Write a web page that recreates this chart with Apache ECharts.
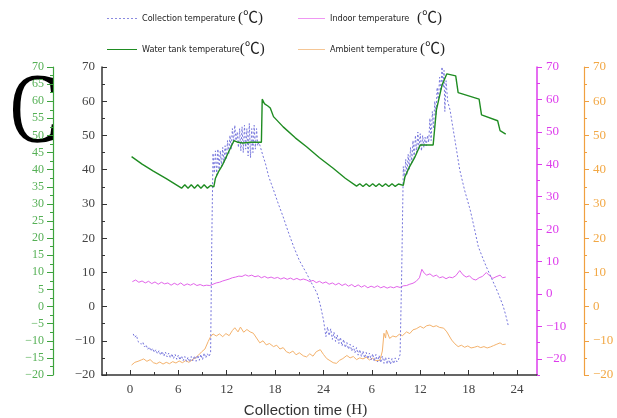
<!DOCTYPE html>
<html>
<head>
<meta charset="utf-8">
<script src="https://cdn.jsdelivr.net/npm/echarts@6/dist/echarts.min.js"></script>
<style>
  html, body { margin: 0; padding: 0; background: #fff; }
  #chart { width: 617px; height: 418px; }
</style>
</head>
<body>
<div id="chart"></div>
<script>
// time in hours (two days, 0..48), temperatures in ℃
const hourLabels = [0, 6, 12, 18, 24, 30, 36, 42, 48];
const hourMinorTicks = [-3, 3, 9, 15, 21, 27, 33, 39, 45];

const collectionTemp = [
  [0.4, -8.0], [0.6, -9.0], [0.8, -8.4], [1.0, -10.2], [1.2, -9.8], [1.4, -11.0], [1.6, -10.4], [1.8, -11.8],
  [2.0, -11.2], [2.2, -12.5], [2.4, -11.8], [2.6, -13.0], [2.8, -12.2], [3.0, -13.4], [3.2, -12.6], [3.4, -13.8],
  [3.6, -12.9], [3.8, -14.2], [4.0, -13.1], [4.2, -14.5], [4.4, -13.3], [4.6, -14.7], [4.8, -13.6], [5.0, -15.0],
  [5.2, -13.8], [5.4, -15.2], [5.6, -14.0], [5.8, -15.4], [6.0, -14.2], [6.2, -15.6], [6.4, -14.4], [6.6, -15.8],
  [6.8, -14.6], [7.0, -16.0], [7.2, -14.8], [7.4, -16.2], [7.6, -14.6], [7.8, -15.9], [8.0, -14.4], [8.2, -16.0],
  [8.4, -14.2], [8.6, -15.7], [8.8, -14.0], [9.0, -15.5], [9.2, -13.6], [9.4, -15.0], [9.6, -13.8], [9.8, -14.6],
  [10.0, -13.5], [10.15, 20], [10.3, 44.8], [10.45, 39], [10.6, 45.5], [10.75, 38.5], [10.9, 46], [11.05, 40],
  [11.2, 45.5], [11.35, 41], [11.5, 46.5], [11.65, 42], [11.8, 47], [11.95, 43], [12.1, 48.5], [12.25, 44.5],
  [12.4, 50], [12.55, 46], [12.7, 52], [12.85, 48], [13.0, 53], [13.15, 48.5], [13.3, 51], [13.45, 46.5],
  [13.6, 52], [13.75, 45.5], [13.9, 52.5], [14.05, 45], [14.2, 53], [14.35, 46], [14.5, 52], [14.65, 44],
  [14.8, 53.5], [14.95, 43.5], [15.1, 52], [15.25, 45], [15.4, 53], [15.55, 46], [15.7, 52], [15.85, 47],
  [16.0, 48], [16.2, 47.5], [16.5, 44], [16.8, 41.8], [17.2, 38], [17.8, 34.1], [18.4, 30], [19.0, 26.2],
  [19.6, 22], [20.3, 17.5], [21.0, 13.5], [21.9, 9.7], [22.6, 6.5], [23.2, 3.9], [23.6, 0.5], [24.0, -3.9],
  [24.3, -8.8], [24.5, -6.0], [24.7, -8.5], [24.9, -6.5], [25.1, -9.6], [25.3, -7.5], [25.5, -10.2], [25.7, -8.3],
  [25.9, -10.8], [26.1, -9.0], [26.3, -11.5], [26.5, -9.6], [26.7, -12.0], [26.9, -10.5], [27.1, -12.5], [27.3, -11.0],
  [27.5, -13.0], [27.7, -11.5], [27.9, -13.5], [28.1, -12.0], [28.3, -14.2], [28.5, -12.6], [28.7, -14.6], [28.9, -13.0],
  [29.1, -15.0], [29.3, -13.4], [29.5, -15.3], [29.7, -13.6], [29.9, -15.6], [30.1, -13.8], [30.3, -16.0], [30.5, -14.0],
  [30.7, -16.2], [30.9, -14.3], [31.1, -16.4], [31.3, -14.5], [31.5, -16.6], [31.7, -14.8], [31.9, -16.8], [32.1, -15.0],
  [32.3, -16.9], [32.5, -15.2], [32.7, -16.7], [32.9, -15.0], [33.1, -16.2], [33.3, -15.5], [33.5, -14.0], [33.7, 10],
  [33.9, 40.9], [34.05, 37.5], [34.2, 43], [34.35, 38.5], [34.5, 44.5], [34.65, 40], [34.8, 46.5], [34.95, 42],
  [35.1, 48.5], [35.25, 43.5], [35.4, 50], [35.55, 45], [35.7, 51], [35.85, 46], [36.0, 50.5], [36.15, 45.5],
  [36.3, 50], [36.45, 46.5], [36.6, 49.5], [36.75, 47], [36.9, 50], [37.05, 48], [37.2, 55], [37.35, 48.5],
  [37.5, 57], [37.65, 52], [37.8, 60], [37.95, 56], [38.1, 64], [38.25, 60], [38.4, 67], [38.55, 63],
  [38.7, 70], [38.85, 64], [38.95, 69], [39.05, 57], [39.2, 66], [39.4, 60], [39.7, 57.4], [40.0, 53],
  [40.3, 48.7], [40.9, 39.9], [41.5, 34], [42.2, 28.2], [42.7, 23], [43.2, 17.5], [43.7, 14.5], [44.2, 11.6],
  [44.8, 8.5], [45.5, 4.8], [45.9, 2.5], [46.3, 0], [46.6, -2.5], [46.9, -5.4]
];

const tankTemp = [
  [0.2, 43.8], [1.5, 41.6], [2.9, 39.6], [4.5, 37.4], [6.0, 35.2], [6.4, 34.6], [6.8, 35.6], [7.2, 34.6],
  [7.6, 35.6], [8.0, 34.6], [8.4, 35.6], [8.8, 34.6], [9.2, 35.6], [9.6, 34.6], [10.0, 35.4], [10.4, 35.0],
  [10.6, 37.5], [10.8, 37.2], [11.0, 39.5], [11.2, 39.0], [11.4, 41.0], [11.6, 40.6], [11.8, 43.0], [12.0, 42.5],
  [12.2, 45.0], [12.4, 44.8], [12.6, 47.0], [12.9, 48.5], [13.1, 48.8], [13.4, 48.0], [14.0, 47.8], [15.0, 48.0],
  [16.3, 48.0], [16.4, 60.6], [16.7, 59.2], [17.1, 58.6], [17.4, 58.0], [17.8, 55.5], [19.0, 52.5], [20.5, 49.3],
  [21.9, 46.7], [23.5, 43.5], [25.2, 40.4], [26.7, 37.5], [28.1, 35.2], [28.5, 35.9], [28.9, 35.1], [29.3, 35.9],
  [29.7, 35.1], [30.1, 35.9], [30.5, 35.1], [30.9, 35.9], [31.3, 35.1], [31.7, 35.9], [32.1, 35.1], [32.5, 35.9],
  [32.9, 35.1], [33.3, 35.8], [33.9, 35.4], [34.1, 37.9], [34.6, 40.5], [34.8, 40.2], [35.3, 43.5], [35.5, 43.3],
  [36.0, 47.2], [37.6, 47.2], [38.0, 57.4], [38.7, 64.7], [39.3, 68.0], [40.4, 67.4], [40.7, 62.5], [43.3, 60.6],
  [43.6, 56.0], [45.6, 54.3], [45.9, 51.4], [46.6, 50.4]
];

// indoor values are read on the magenta axis
const indoorTemp = [
  [0.3, 3.8], [0.7, 4.3], [1.1, 3.6], [1.5, 4.0], [1.9, 3.4], [2.3, 3.9], [2.7, 3.2], [3.1, 3.7],
  [3.5, 3.0], [3.9, 3.6], [4.3, 3.1], [4.7, 3.4], [5.1, 2.7], [5.5, 3.3], [5.9, 2.8], [6.3, 3.4],
  [6.7, 2.6], [7.1, 3.1], [7.5, 2.7], [7.9, 3.2], [8.3, 2.6], [8.7, 2.9], [9.1, 2.5], [9.5, 2.7],
  [9.9, 2.6], [10.3, 3.0], [10.7, 3.4], [11.1, 3.6], [11.5, 4.0], [11.9, 4.3], [12.3, 4.6], [12.7, 5.0],
  [13.1, 5.2], [13.5, 5.5], [13.9, 5.4], [14.3, 5.9], [14.7, 5.5], [15.1, 5.8], [15.5, 5.3], [15.9, 5.6],
  [16.3, 5.0], [16.7, 5.4], [17.1, 4.9], [17.5, 5.2], [17.9, 4.8], [18.3, 5.1], [18.7, 4.6], [19.1, 5.0],
  [19.5, 4.5], [19.9, 4.9], [20.3, 4.4], [20.7, 4.8], [21.1, 4.3], [21.5, 4.6], [21.9, 4.3], [22.3, 3.8],
  [22.7, 4.2], [23.1, 3.5], [23.5, 3.9], [23.9, 3.3], [24.3, 3.7], [24.7, 3.0], [25.1, 3.4], [25.5, 2.8],
  [25.9, 3.3], [26.3, 2.6], [26.7, 3.1], [27.1, 2.4], [27.5, 2.9], [27.9, 2.2], [28.3, 2.8], [28.7, 2.1],
  [29.1, 2.6], [29.5, 1.9], [29.9, 2.4], [30.3, 2.0], [30.7, 2.5], [31.1, 1.9], [31.5, 2.3], [31.9, 1.8],
  [32.3, 2.2], [32.7, 1.9], [33.1, 2.3], [33.5, 2.0], [33.9, 2.5], [34.3, 2.6], [34.7, 3.0], [35.1, 3.3],
  [35.5, 3.9], [35.9, 5.0], [36.2, 7.6], [36.5, 6.4], [36.8, 5.8], [37.2, 6.2], [37.6, 5.4], [38.0, 5.8],
  [38.4, 5.0], [38.8, 5.3], [39.2, 4.7], [39.6, 5.2], [40.0, 5.0], [40.4, 5.6], [40.9, 7.2], [41.3, 5.9],
  [41.7, 5.2], [42.1, 5.6], [42.5, 4.6], [42.9, 4.3], [43.3, 5.0], [43.7, 5.4], [44.2, 6.6], [44.6, 5.6],
  [45.0, 4.8], [45.4, 5.3], [45.9, 5.8], [46.2, 5.0], [46.6, 5.2]
];

// ambient values are read on the orange axis
const ambientTemp = [
  [0.2, -17.1], [0.6, -16.3], [1.0, -16.0], [1.4, -15.6], [1.7, -15.3], [2.1, -16.0], [2.5, -15.5], [2.9, -16.4],
  [3.3, -16.7], [3.7, -16.2], [4.1, -16.8], [4.5, -16.3], [4.9, -16.7], [5.3, -16.1], [5.7, -16.5], [6.1, -15.9],
  [6.5, -16.4], [6.9, -15.8], [7.3, -16.3], [7.7, -15.6], [8.1, -15.0], [8.5, -14.2], [8.9, -13.2], [9.3, -12.4],
  [9.7, -10.2], [10.0, -8.8], [10.3, -8.0], [10.7, -8.6], [11.1, -8.0], [11.5, -8.8], [11.9, -7.9], [12.3, -8.5],
  [12.7, -7.0], [13.0, -6.2], [13.4, -7.4], [13.7, -6.0], [14.1, -7.5], [14.5, -6.7], [14.9, -7.4], [15.3, -7.8],
  [15.7, -9.2], [16.1, -10.6], [16.5, -10.0], [16.9, -11.2], [17.3, -10.8], [17.8, -11.7], [18.2, -11.3], [18.6, -12.4],
  [19.0, -12.0], [19.4, -13.2], [19.8, -13.6], [20.2, -13.0], [20.6, -14.1], [21.0, -13.5], [21.5, -14.4], [21.9, -14.7],
  [22.3, -13.8], [22.7, -14.5], [23.1, -13.2], [23.6, -12.6], [24.0, -14.0], [24.4, -15.2], [24.8, -15.8], [25.2, -16.4],
  [25.6, -16.6], [26.0, -15.7], [26.4, -15.2], [26.9, -14.3], [27.3, -15.0], [27.7, -14.6], [28.1, -15.5], [28.5, -15.0],
  [28.9, -15.3], [29.3, -14.8], [29.7, -15.6], [30.1, -15.1], [30.5, -15.8], [31.0, -15.7], [31.3, -13.0], [31.5, -7.8],
  [31.7, -9.2], [31.8, -6.9], [32.2, -9.3], [32.6, -8.6], [33.0, -8.9], [33.4, -8.1], [33.8, -8.5], [34.3, -7.4],
  [34.7, -7.9], [35.1, -6.8], [35.5, -6.5], [36.0, -5.8], [36.4, -6.3], [36.8, -5.6], [37.2, -5.4], [37.6, -5.9],
  [38.0, -5.6], [38.4, -6.1], [38.9, -6.3], [39.3, -7.4], [39.6, -8.6], [39.9, -9.8], [40.3, -10.9], [40.7, -11.7],
  [41.1, -11.3], [41.5, -11.9], [41.9, -11.5], [42.3, -12.1], [42.7, -11.9], [43.1, -11.6], [43.5, -12.0], [43.9, -11.7],
  [44.3, -12.1], [44.7, -11.8], [45.1, -11.4], [45.5, -11.0], [45.9, -10.6], [46.2, -11.1], [46.6, -11.0]
];

const magentaLabels = [-20, -10, 0, 10, 20, 30, 40, 50, 60, 70];
const magentaMinor = [-25, -15, -5, 5, 15, 25, 35, 45, 55, 65];

const GREEN = '#3da33d';
const MAGENTA = '#dd3cec';
const ORANGE = '#f0a040';
const SERIF = 'Liberation Serif';
const minus = (v) => String(v).replace('-', '\u2212');

// legend icons: plain line, or a row of short dashes
const LINE_ICON = 'path://M0,0h30v1h-30z';
const DASH_ICON = 'path://M0,0h2v1h-2zM4,0h2v1h-2zM8,0h2v1h-2zM12,0h2v1h-2zM16,0h2v1h-2zM20,0h2v1h-2zM24,0h2v1h-2zM28,0h2v1h-2z';

const chart = echarts.init(document.getElementById('chart'));

const legendText = {
  fontFamily: 'DejaVu Sans Condensed, Liberation Sans',
  fontSize: 9,
  color: '#222',
  rich: { u: { fontFamily: 'Liberation Serif, Noto Sans CJK SC', fontSize: 15, color: '#222' } },
};
const mkLegend = (name, left, top, w, h, icon, fmt) => ({
  data: [{ name, icon }],
  left, top,
  padding: 0,
  itemWidth: w,
  itemHeight: h,
  itemGap: 5,
  textStyle: legendText,
  formatter: fmt,
});

chart.setOption({
  backgroundColor: '#fff',
  animation: false,
  grid: { left: 102, right: 80, top: 67, bottom: 43, containLabel: false, outerBoundsMode: 'none' },
  legend: [
    mkLegend('Collection temperature', 107, 11, 30, 1.2, DASH_ICON, (n) => n + ' {u|(℃)}'),
    mkLegend('Indoor temperature', 298, 11, 27, 1.2, LINE_ICON, (n) => n + '   {u|(℃)}'),
    mkLegend('Water tank temperature', 107, 42, 30, 1.6, LINE_ICON, (n) => n + '{u|(℃)}'),
    mkLegend('Ambient temperature', 298, 42, 27, 1.2, LINE_ICON, (n) => n + ' {u|(℃)}'),
  ],
  graphic: [{
    type: 'text',
    left: 10,
    top: 65,
    scaleX: 0.72,
    style: { text: 'C', font: '100px "Liberation Serif"', fill: '#000' },
  }],
  xAxis: [
    {
      type: 'value',
      min: -3.47,
      max: 50.48,
      splitLine: { show: false },
      axisLine: { show: true, onZero: false, lineStyle: { color: '#333', width: 1.5 } },
      axisTick: { show: true, inside: true, length: 5, customValues: hourLabels, lineStyle: { color: '#333' } },
      axisLabel: {
        customValues: hourLabels,
        formatter: (v) => (v > 24 ? v - 24 : v),
        fontFamily: SERIF, fontSize: 13, color: '#444', margin: 8,
      },
      name: 'Collection time {p|(H)}',
      nameLocation: 'middle',
      nameGap: 28,
      nameTextStyle: {
        fontFamily: 'Liberation Sans', fontSize: 15, color: '#333',
        padding: [0, 28, 0, 0],
        rich: { p: { fontFamily: SERIF, fontSize: 15, color: '#333' } },
      },
    },
    {
      type: 'value',
      min: -3.47,
      max: 50.48,
      position: 'bottom',
      splitLine: { show: false },
      axisLine: { show: false, onZero: false },
      axisTick: { show: true, inside: true, length: 3, customValues: hourMinorTicks, lineStyle: { color: '#333' } },
      axisLabel: { show: false },
    },
  ],
  yAxis: [
    {
      // main axis
      type: 'value', position: 'left', offset: 0,
      min: -20, max: 70, interval: 10,
      splitLine: { show: false },
      axisLine: { show: true, onZero: false, lineStyle: { color: '#333', width: 1.5 } },
      axisTick: { show: true, inside: true, length: 5, lineStyle: { color: '#333' } },
      minorTick: { show: true, splitNumber: 2, length: 3, lineStyle: { color: '#333' } },
      axisLabel: { formatter: minus, fontFamily: SERIF, fontSize: 13, color: '#444', margin: 7 },
    },
    {
      // green axis
      type: 'value', position: 'left', offset: 49,
      min: -20, max: 70, interval: 5,
      splitLine: { show: false },
      axisLine: { show: true, onZero: false, lineStyle: { color: GREEN, width: 1.2 } },
      axisTick: { show: true, inside: false, length: 6, lineStyle: { color: GREEN } },
      minorTick: { show: true, splitNumber: 2, length: 3, lineStyle: { color: GREEN } },
      axisLabel: { formatter: minus, fontFamily: SERIF, fontSize: 12, color: '#55b055', margin: 9 },
    },
    {
      // magenta axis
      type: 'value', position: 'right', offset: 0,
      min: -25, max: 70,
      splitLine: { show: false },
      axisLine: { show: true, onZero: false, lineStyle: { color: MAGENTA, width: 1.5 } },
      axisTick: { show: true, inside: false, length: 5, customValues: magentaLabels, lineStyle: { color: MAGENTA } },
      axisLabel: { customValues: magentaLabels, formatter: minus, fontFamily: SERIF, fontSize: 13, color: MAGENTA, margin: 9 },
    },
    {
      type: 'value', position: 'right', offset: 0,
      min: -25, max: 70,
      splitLine: { show: false },
      axisLine: { show: false, onZero: false },
      axisTick: { show: true, inside: false, length: 3, customValues: magentaMinor, lineStyle: { color: MAGENTA } },
      axisLabel: { show: false },
    },
    {
      // orange axis
      type: 'value', position: 'right', offset: 47,
      min: -20, max: 70, interval: 10,
      splitLine: { show: false },
      axisLine: { show: true, onZero: false, lineStyle: { color: ORANGE, width: 1.2 } },
      axisTick: { show: true, inside: false, length: 5, lineStyle: { color: ORANGE } },
      minorTick: { show: true, splitNumber: 2, length: 3, lineStyle: { color: ORANGE } },
      axisLabel: { formatter: minus, fontFamily: SERIF, fontSize: 13, color: '#f2a845', margin: 9 },
    },
  ],
  series: [
    {
      name: 'Collection temperature', type: 'line', yAxisIndex: 0, data: collectionTemp,
      symbol: 'none', z: 3,
      lineStyle: { color: '#7676dc', width: 1, type: [2, 2] },
      itemStyle: { color: '#8a8ae0' },
    },
    {
      name: 'Indoor temperature', type: 'line', yAxisIndex: 2, data: indoorTemp,
      symbol: 'none', z: 2,
      lineStyle: { color: '#e264ea', width: 1 },
      itemStyle: { color: '#ee8cf2' },
    },
    {
      name: 'Water tank temperature', type: 'line', yAxisIndex: 0, data: tankTemp,
      symbol: 'none', z: 4,
      lineStyle: { color: '#1f8c22', width: 1.4 },
      itemStyle: { color: '#1f8c22' },
    },
    {
      name: 'Ambient temperature', type: 'line', yAxisIndex: 4, data: ambientTemp,
      symbol: 'none', z: 2,
      lineStyle: { color: '#f4b26c', width: 1 },
      itemStyle: { color: '#f4c08a' },
    },
  ],
});
</script>
</body>
</html>
